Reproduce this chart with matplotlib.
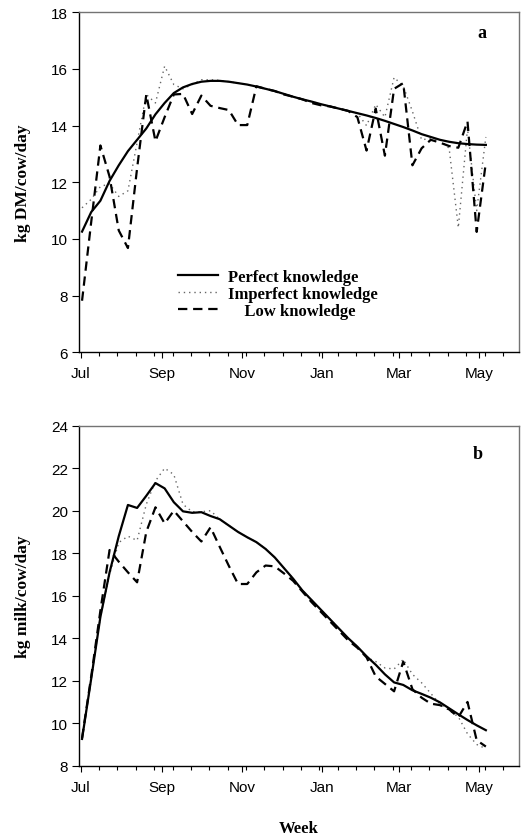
import matplotlib
matplotlib.use('Agg')
import matplotlib.pyplot as plt
from matplotlib.ticker import FixedLocator

# ---- data (x = days since 1 July, one point per week) ----
DAY = [1, 8, 15, 22, 29, 36, 43, 50, 57, 64, 71, 78, 85, 92, 99, 106, 113, 120, 127,
       134, 141, 148, 155, 162, 169, 176, 183, 190, 197, 204, 211, 218, 225, 232, 239,
       246, 253, 260, 267, 274, 281, 288, 295, 302, 309]
MONTH_DAY = [0, 62, 123, 184, 243, 304]
MONTH_LABEL = ['Jul', 'Sep', 'Nov', 'Jan', 'Mar', 'May']

# panel a: intake, kg DM/cow/day
DM_PERFECT = [10.26, 10.95, 11.35, 12.05, 12.6, 13.1, 13.5, 13.9, 14.4, 14.8, 15.15, 15.35,
              15.47, 15.55, 15.58, 15.58, 15.55, 15.5, 15.45, 15.38, 15.3, 15.22, 15.12,
              15.02, 14.93, 14.85, 14.76, 14.68, 14.6, 14.52, 14.44, 14.36, 14.27, 14.17,
              14.06, 13.95, 13.83, 13.7, 13.6, 13.5, 13.43, 13.38, 13.35, 13.33, 13.32]
DM_IMPERFECT = [11.1, 11.4, 11.85, 11.95, 11.5, 11.7, 13.4, 15.1, 14.8, 16.1, 15.45, 15.3,
                15.45, 15.62, 15.62, 15.6, 15.55, 15.5, 15.45, 15.38, 15.3, 15.22, 15.12,
                15.02, 14.93, 14.85, 14.76, 14.68, 14.6, 14.52, 14.44, 14.0, 14.75, 14.3,
                15.7, 15.4, 14.5, 13.5, 13.55, 13.5, 13.2, 10.4, 13.9, 11.0, 13.6]
DM_LOW = [7.82, 10.6, 13.3, 12.2, 10.3, 9.68, 12.5, 15.1, 13.45, 14.3, 15.1, 15.12, 14.41,
          15.06, 14.7, 14.62, 14.55, 14.02, 14.02, 15.39, 15.3, 15.22, 15.1, 15.02, 14.93,
          14.8, 14.72, 14.68, 14.6, 14.52, 14.3, 13.12, 14.6, 12.94, 15.3, 15.5, 12.6, 13.2,
          13.5, 13.4, 13.28, 13.22, 14.15, 10.25, 12.7]

# panel b: milk yield, kg milk/cow/day
MILK_PERFECT = [9.26, 12.1, 15.0, 17.1, 18.8, 20.27, 20.13, 20.7, 21.3, 21.05, 20.4, 19.97,
                19.9, 19.93, 19.75, 19.6, 19.3, 19.0, 18.75, 18.52, 18.2, 17.8, 17.3, 16.8,
                16.25, 15.8, 15.35, 14.9, 14.45, 14.0, 13.6, 13.15, 12.75, 12.3, 11.92, 11.8,
                11.55, 11.38, 11.2, 10.98, 10.7, 10.42, 10.15, 9.9, 9.67]
MILK_IMPERFECT = [9.3, 12.1, 15.0, 17.0, 18.5, 18.8, 18.6, 20.3, 21.4, 22.0, 21.7, 20.3,
                  19.95, 19.95, 20.0, 19.6, 19.3, 19.0, 18.75, 18.52, 18.2, 17.8, 17.3, 16.8,
                  16.25, 15.8, 15.35, 14.9, 14.45, 14.0, 13.6, 13.1, 12.9, 12.6, 12.55, 13.0,
                  12.3, 11.9, 11.4, 10.9, 10.6, 10.3, 9.5, 9.0, 8.8]
MILK_LOW = [9.3, 12.2, 15.3, 18.15, 17.6, 17.1, 16.63, 19.0, 20.16, 19.4, 20.0, 19.5, 19.0,
            18.55, 19.22, 18.3, 17.4, 16.55, 16.55, 17.1, 17.42, 17.38, 17.05, 16.7, 16.2,
            15.7, 15.25, 14.8, 14.35, 13.9, 13.55, 13.1, 12.2, 11.85, 11.5, 12.9, 11.6, 11.2,
            10.92, 10.85, 10.65, 10.28, 11.0, 9.2, 8.9]

SERIF = 'Liberation Serif'
SANS = 'Liberation Sans'

fig = plt.figure(figsize=(5.23, 8.37), dpi=100)
ax1 = fig.add_axes([0.1516, 0.5779, 0.8408, 0.4062])
ax2 = fig.add_axes([0.1516, 0.0840, 0.8408, 0.4062])

SOLID = dict(color='black', lw=1.6, ls='-')
DOTTED = dict(color='0.4', lw=1.0, ls=(0, (1.0, 2.8)))
DASHED = dict(color='black', lw=1.6, ls=(0, (4.2, 2.6)))

for ax, perf, imp, low, ylim, yl, tag, tagpos in [
        (ax1, DM_PERFECT, DM_IMPERFECT, DM_LOW, (6, 18), 'kg DM/cow/day', 'a', (0.915, 0.941)),
        (ax2, MILK_PERFECT, MILK_IMPERFECT, MILK_LOW, (8, 24), 'kg milk/cow/day', 'b', (0.907, 0.917))]:
    ax.plot(DAY, imp, label='Imperfect knowledge', **DOTTED)
    ax.plot(DAY, low, label='    Low knowledge', **DASHED)
    ax.plot(DAY, perf, label='Perfect knowledge', **SOLID)
    ax.set_xlim(-1.1, 334.3)
    ax.set_ylim(*ylim)
    ax.set_yticks(range(ylim[0], ylim[1] + 1, 2))
    ax.xaxis.set_major_locator(FixedLocator(MONTH_DAY))
    ax.set_xticklabels(MONTH_LABEL)
    ax.xaxis.set_minor_locator(FixedLocator([d for d in range(0, 330, 14) if d not in MONTH_DAY]))
    ax.tick_params(axis='both', which='major', direction='out', length=4, width=0.8,
                   labelsize=11, colors='black')
    ax.tick_params(axis='x', which='major', pad=6)
    ax.tick_params(axis='y', which='major', pad=3, length=5)
    ax.tick_params(axis='x', which='minor', direction='out', length=3, width=0.8)
    for lab in ax.get_xticklabels() + ax.get_yticklabels():
        lab.set_fontfamily(SANS)
    for s in ['left', 'bottom']:
        ax.spines[s].set_linewidth(1.0)
        ax.spines[s].set_color('black')
    for s in ['top', 'right']:
        ax.spines[s].set_linewidth(1.0)
        ax.spines[s].set_color('0.45')
    ax.set_ylabel(yl, fontfamily=SERIF, fontweight='bold', fontsize=12.5)
    ax.yaxis.set_label_coords(-0.11, 0.5)
    ax.text(*tagpos, tag, transform=ax.transAxes, fontfamily=SERIF, fontweight='bold',
            fontsize=13, ha='center', va='center')

h, l = ax1.get_legend_handles_labels()
order = [2, 0, 1]
leg = ax1.legend([h[i] for i in order], [l[i] for i in order], loc='upper left',
                 bbox_to_anchor=(0.225, 0.245), frameon=False, borderpad=0, borderaxespad=0,
                 handlelength=2.4, handletextpad=0.6, labelspacing=0.05,
                 prop={'family': SERIF, 'weight': 'bold', 'size': 12})

ax2.set_xlabel('Week', fontfamily=SERIF, fontweight='bold', fontsize=12)
ax2.xaxis.set_label_coords(0.5, -0.16)

fig.savefig('out.png', dpi=100)
